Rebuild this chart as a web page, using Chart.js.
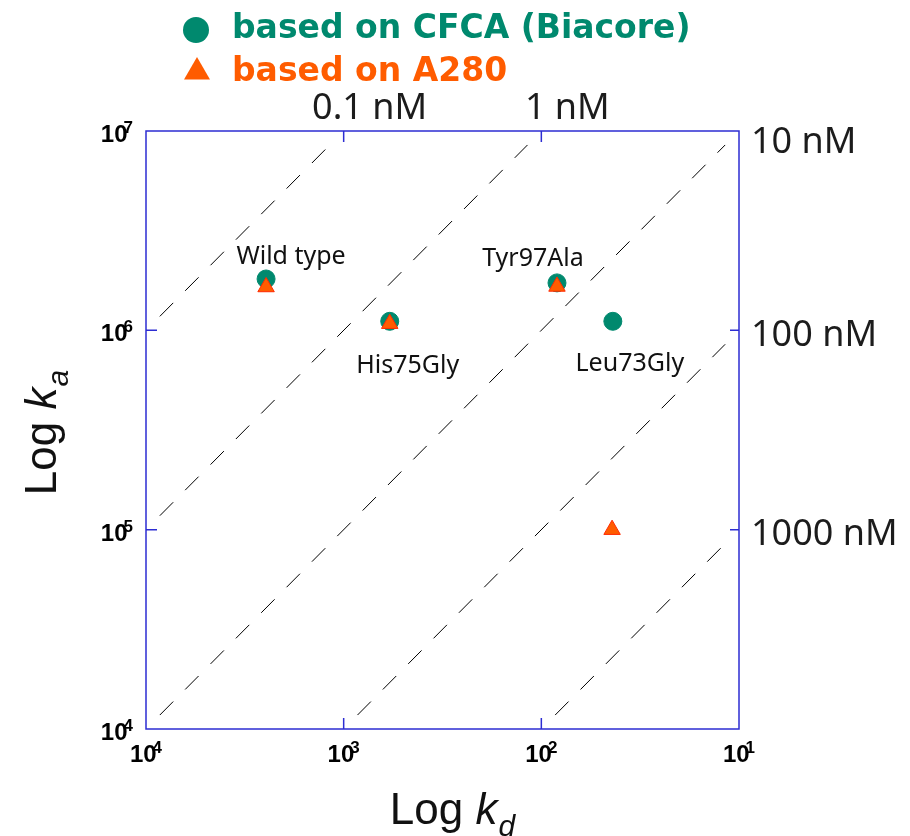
<!DOCTYPE html>
<html>
<head>
<meta charset="utf-8">
<script src="https://cdn.jsdelivr.net/npm/chart.js@4.4.1/dist/chart.umd.min.js"></script>
<style>
  html, body { margin: 0; padding: 0; background: #fff; }
  #wrap { width: 910px; height: 836px; }
</style>
</head>
<body>
<div id="wrap"><canvas id="chart" width="910" height="836"></canvas></div>
<script>
// mutants and rate constants
const mutants = ['Wild type', 'His75Gly', 'Tyr97Ala', 'Leu73Gly'];
const kdCFCA = [4.05e-4, 1.71e-3, 1.20e-2, 2.30e-2];
const kaCFCA = [1.81e6, 1.11e6, 1.73e6, 1.11e6];
const kdA280 = [4.05e-4, 1.71e-3, 1.20e-2, 2.28e-2];
const kaA280 = [1.65e6, 1.08e6, 1.66e6, 1.0e5];

// tick labels as printed: base and exponent
const kdTicks = [1e-4, 1e-3, 1e-2, 1e-1];
const kdTickExp = ['4', '3', '2', '1'];
const kaTicks = [1e4, 1e5, 1e6, 1e7];
const kaTickExp = ['4', '5', '6', '7'];

// iso-affinity lines, KD in nM
const KDnM = [0.1, 1, 10, 100, 1000];
const KDLabels = ['0.1 nM', '1 nM', '10 nM', '100 nM', '1000 nM'];

const TEAL = '#00896e';
const ORANGE = '#ff5c00';
const FRAME = '#2d2dd2';

const KD_MIN = -4, KD_MAX = -1, KA_MIN = 4, KA_MAX = 7;

function isoLine(nM) {
  let logKD = Math.log10(nM) - 9;
  let s = Math.max(KD_MIN, KA_MIN + logKD);
  let e = Math.min(KD_MAX, KA_MAX + logKD);
  // lines stop a little short of the frame
  s += 0.07;
  e -= 0.07;
  return [
    {x: Math.pow(10, s), y: Math.pow(10, s - logKD)},
    {x: Math.pow(10, e), y: Math.pow(10, e - logKD)}
  ];
}

function points(xs, ys) {
  return xs.map((x, i) => ({x: x, y: ys[i]}));
}

var datasets = [{
  label: 'based on A280',
  data: points(kdA280, kaA280),
  pointStyle: 'triangle',
  pointRadius: 9.5,
  backgroundColor: ORANGE,
  borderColor: '#ff2a00',
  borderWidth: 1,
  order: 0
}, {
  label: 'based on CFCA (Biacore)',
  data: points(kdCFCA, kaCFCA),
  pointStyle: 'circle',
  pointRadius: 9,
  backgroundColor: TEAL,
  borderColor: TEAL,
  borderWidth: 1,
  order: 1
}];

KDnM.forEach(k => {
  datasets.push({
    label: k + ' nM',
    data: isoLine(k),
    showLine: true,
    pointRadius: 0,
    borderColor: '#000',
    borderWidth: 1,
    borderDash: [19, 17],
    order: 2
  });
});

const SANS = '"Liberation Sans", Arial, sans-serif';

function drawTitle(ctx, cx, cy, sub, rotate) {
  ctx.save();
  ctx.translate(cx, cy);
  if (rotate) ctx.rotate(-Math.PI / 2);
  ctx.fillStyle = '#111';
  ctx.textBaseline = 'alphabetic';
  ctx.textAlign = 'left';
  ctx.font = '44px ' + SANS;
  let w1 = ctx.measureText('Log ').width;
  ctx.font = 'italic 44px ' + SANS;
  let w2 = ctx.measureText('k').width;
  ctx.font = 'italic 30px ' + SANS;
  let w3 = ctx.measureText(sub).width;
  let left = -(w1 + w2 + w3) / 2;
  ctx.font = '44px ' + SANS;
  ctx.fillText('Log ', left, 0);
  ctx.font = 'italic 44px ' + SANS;
  ctx.fillText('k', left + w1, 0);
  ctx.font = 'italic 30px ' + SANS;
  ctx.fillText(sub, left + w1 + w2 + 1, 12);
  ctx.restore();
}

// "10" with a big exponent that overlaps the zero, like the original
function powerLabel(ctx, exp, x, y, align) {
  ctx.font = 'bold 24px ' + SANS;
  let wb = ctx.measureText('10').width;
  ctx.font = 'bold 17px ' + SANS;
  let we = ctx.measureText(exp).width;
  let total = wb - 4 + we;
  let left = align === 'right' ? x - total : x - total / 2;
  ctx.textAlign = 'left';
  ctx.textBaseline = 'alphabetic';
  ctx.font = 'bold 24px ' + SANS;
  ctx.fillText('10', left, y);
  ctx.font = 'bold 17px ' + SANS;
  ctx.fillText(exp, left + wb - 4, y - 9);
}

const decorations = {
  id: 'decorations',
  afterDatasetsDraw(chart) {
    const ctx = chart.ctx;
    const area = chart.chartArea;
    const xs = chart.scales.x, ys = chart.scales.y;

    // frame with inward ticks
    ctx.save();
    ctx.strokeStyle = FRAME;
    ctx.lineWidth = 1.5;
    ctx.strokeRect(area.left, area.top, area.right - area.left, area.bottom - area.top);
    ctx.beginPath();
    kdTicks.slice(1, -1).forEach(v => {
      let px = xs.getPixelForValue(v);
      ctx.moveTo(px, area.bottom); ctx.lineTo(px, area.bottom - 11);
      ctx.moveTo(px, area.top); ctx.lineTo(px, area.top + 11);
    });
    kaTicks.slice(1, -1).forEach(v => {
      let py = ys.getPixelForValue(v);
      ctx.moveTo(area.left, py); ctx.lineTo(area.left + 11, py);
      ctx.moveTo(area.right, py); ctx.lineTo(area.right - 9, py);
    });
    ctx.stroke();
    ctx.restore();

    // tick labels
    ctx.save();
    ctx.fillStyle = '#000';
    kdTicks.forEach((v, i) => {
      powerLabel(ctx, kdTickExp[i], xs.getPixelForValue(v), area.bottom + 33, 'center');
    });
    kaTicks.forEach((v, i) => {
      powerLabel(ctx, kaTickExp[i], area.left - 13, ys.getPixelForValue(v) + 11, 'right');
    });
    ctx.restore();

    // KD labels at the ends of the dashed lines
    ctx.save();
    ctx.fillStyle = '#1c1c1c';
    ctx.font = '36px "Noto Sans", "Open Sans", sans-serif';
    KDnM.forEach((k, i) => {
      let logKD = Math.log10(k) - 9;
      if (KA_MAX + logKD < KD_MAX) {
        let px = xs.getPixelForValue(Math.pow(10, KA_MAX + logKD));
        ctx.textAlign = 'center';
        ctx.textBaseline = 'alphabetic';
        ctx.fillText(KDLabels[i], px + 26, area.top - 12);
      } else {
        let py = ys.getPixelForValue(Math.pow(10, KD_MAX - logKD));
        ctx.textAlign = 'left';
        ctx.textBaseline = 'middle';
        ctx.fillText(KDLabels[i], area.right + 12, Math.max(py + 5, area.top + 12));
      }
    });
    ctx.restore();

    // mutant names next to the CFCA points
    const offsets = [[25, -15], [18, 52], [-24, -17], [17, 50]];
    const meta = chart.getDatasetMeta(1);
    ctx.save();
    ctx.fillStyle = '#111';
    ctx.font = '25px "Noto Sans", "Open Sans", sans-serif';
    ctx.textAlign = 'center';
    ctx.textBaseline = 'alphabetic';
    mutants.forEach((name, i) => {
      let p = meta.data[i];
      ctx.fillText(name, p.x + offsets[i][0], p.y + offsets[i][1]);
    });
    ctx.restore();

    // legend
    ctx.save();
    const rows = [
      {ds: chart.data.datasets[1], color: TEAL, x: 196, y: 30, r: 13, ty: 38},
      {ds: chart.data.datasets[0], color: ORANGE, x: 197, y: 72, r: 15, ty: 81}
    ];
    rows.forEach(row => {
      ctx.fillStyle = row.color;
      ctx.strokeStyle = row.color;
      Chart.helpers.drawPoint(ctx, {pointStyle: row.ds.pointStyle, radius: row.r, borderWidth: 0}, row.x, row.y);
      ctx.font = 'bold 33px "DejaVu Sans", sans-serif';
      ctx.textAlign = 'left';
      ctx.textBaseline = 'alphabetic';
      ctx.fillText(row.ds.label, 232, row.ty);
    });
    ctx.restore();

    // axis titles
    drawTitle(ctx, 452, 824, 'd', false);
    drawTitle(ctx, 56, 433, 'a', true);
  }
};

Chart.defaults.font.family = SANS;

new Chart(document.getElementById('chart'), {
  type: 'scatter',
  data: {datasets: datasets},
  options: {
    responsive: false,
    animation: false,
    layout: {padding: {left: 0, right: 171, top: 131, bottom: 0}},
    plugins: {legend: {display: false}, tooltip: {enabled: false}},
    scales: {
      x: {
        type: 'logarithmic',
        min: 1e-4,
        max: 1e-1,
        grid: {display: false},
        border: {display: false},
        afterBuildTicks: s => { s.ticks = kdTicks.map(v => ({value: v})); },
        afterFit: s => { s.height = 107; },
        ticks: {display: false}
      },
      y: {
        type: 'logarithmic',
        min: 1e4,
        max: 1e7,
        grid: {display: false},
        border: {display: false},
        afterBuildTicks: s => { s.ticks = kaTicks.map(v => ({value: v})); },
        afterFit: s => { s.width = 146; },
        ticks: {display: false}
      }
    }
  },
  plugins: [decorations]
});
</script>
</body>
</html>
